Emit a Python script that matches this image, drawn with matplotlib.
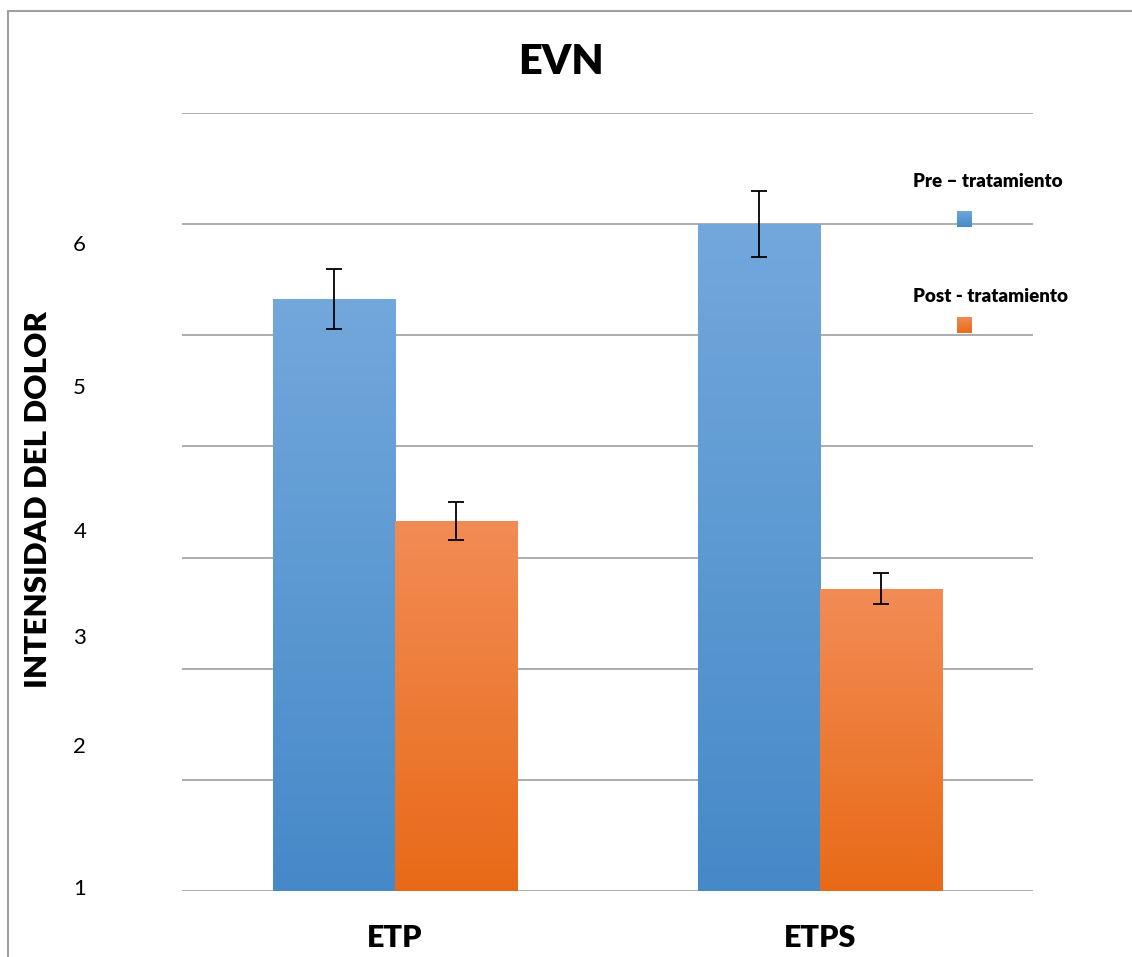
import numpy as np
import matplotlib
matplotlib.use('Agg')
import matplotlib.pyplot as plt
import matplotlib.patches as patches
from matplotlib.colors import LinearSegmentedColormap

plt.rcParams['font.family'] = ['Lato', 'DejaVu Sans']

# data
categories = ['ETP', 'ETPS']
series_names = ['Pre – tratamiento', 'Post - tratamiento']
pre_values = [5.33, 6.00]
pre_errors = [0.27, 0.30]
post_values = [3.33, 2.72]
post_errors = [0.17, 0.14]
# the printed axis numbers sit at odd heights in the original
tick_labels = ['1', '2', '3', '4', '5', '6']
tick_positions = [0.04, 1.31, 2.29, 3.25, 4.54, 5.83]

blue_cmap = LinearSegmentedColormap.from_list('blue', ['#4689c8', '#72a8dc'])
orange_cmap = LinearSegmentedColormap.from_list('orange', ['#e86a17', '#f28c55'])
gradient = np.linspace(0, 1, 256).reshape(-1, 1)

W, H = 1132, 957
fig = plt.figure(figsize=(W / 100, H / 100), dpi=100)
ax = fig.add_axes([182 / W, (H - 891) / H, 851 / W, 778 / H])

x = np.arange(len(categories))
width = 0.287


def gradient_bars(xs, heights, cmap):
    bars = ax.bar(xs, heights, width, facecolor='none', edgecolor='none', zorder=2)
    for bar in bars:
        x0, y0 = bar.get_x(), bar.get_y()
        im = ax.imshow(gradient, cmap=cmap, origin='lower', aspect='auto',
                       extent=[x0, x0 + bar.get_width(), y0, y0 + bar.get_height()],
                       zorder=2)
        im.set_clip_path(bar)
    return bars


gradient_bars(x - width / 2, pre_values, blue_cmap)
gradient_bars(x + width / 2, post_values, orange_cmap)

ax.errorbar(x - width / 2, pre_values, yerr=pre_errors, fmt='none',
            ecolor='black', elinewidth=1.3, capsize=6, capthick=1.3, zorder=3)
ax.errorbar(x + width / 2, post_values, yerr=post_errors, fmt='none',
            ecolor='black', elinewidth=1.3, capsize=6, capthick=1.3, zorder=3)

ax.set_xlim(-0.5, 1.5)
ax.set_ylim(0, 7)

# gridlines on the whole units, numbers on the minor ticks
ax.set_yticks(np.arange(0, 8))
ax.set_yticklabels([])
ax.set_yticks(tick_positions, minor=True)
ax.set_yticklabels(tick_labels, minor=True, fontsize=16)
ax.tick_params(axis='y', which='both', length=0)
ax.tick_params(axis='y', which='minor', pad=69)
ax.grid(True, axis='y', which='major', color='#a6a6a6', linewidth=1.3, zorder=0)
ax.set_axisbelow(True)

ax.set_xticks(x)
ax.set_xticklabels(categories, fontsize=22, fontweight='heavy')
ax.tick_params(axis='x', length=0, pad=24)

for s in ax.spines.values():
    s.set_visible(False)

ax.set_ylabel('INTENSIDAD DEL DOLOR', fontsize=22.5, fontweight='heavy')
ax.yaxis.set_label_coords(-(182 - 52) / 851, 0.503)

fig.text(561 / W, 1 - 62 / H, 'EVN', ha='center', va='center',
         fontsize=30, fontweight='heavy')

# legend: label above a small square
legend_y = [181, 297]
square_y = [219, 325]
for name, cmap, ty, sy in zip(series_names, [blue_cmap, orange_cmap], legend_y, square_y):
    fig.text(913 / W, 1 - ty / H, name, ha='left', va='center',
             fontsize=13.5, fontweight='heavy')
    sq = fig.add_axes([957 / W, 1 - (sy + 8) / H, 15 / W, 16 / H])
    sq.imshow(gradient, cmap=cmap, origin='lower', aspect='auto')
    sq.set_axis_off()

# chart border
fig.patches.append(patches.Rectangle((8 / W, -0.1), 1.2, 1 - 11 / H + 0.1,
                                     transform=fig.transFigure, fill=False,
                                     edgecolor='#a0a0a0', linewidth=1.5))

fig.savefig('out.png', dpi=100)
